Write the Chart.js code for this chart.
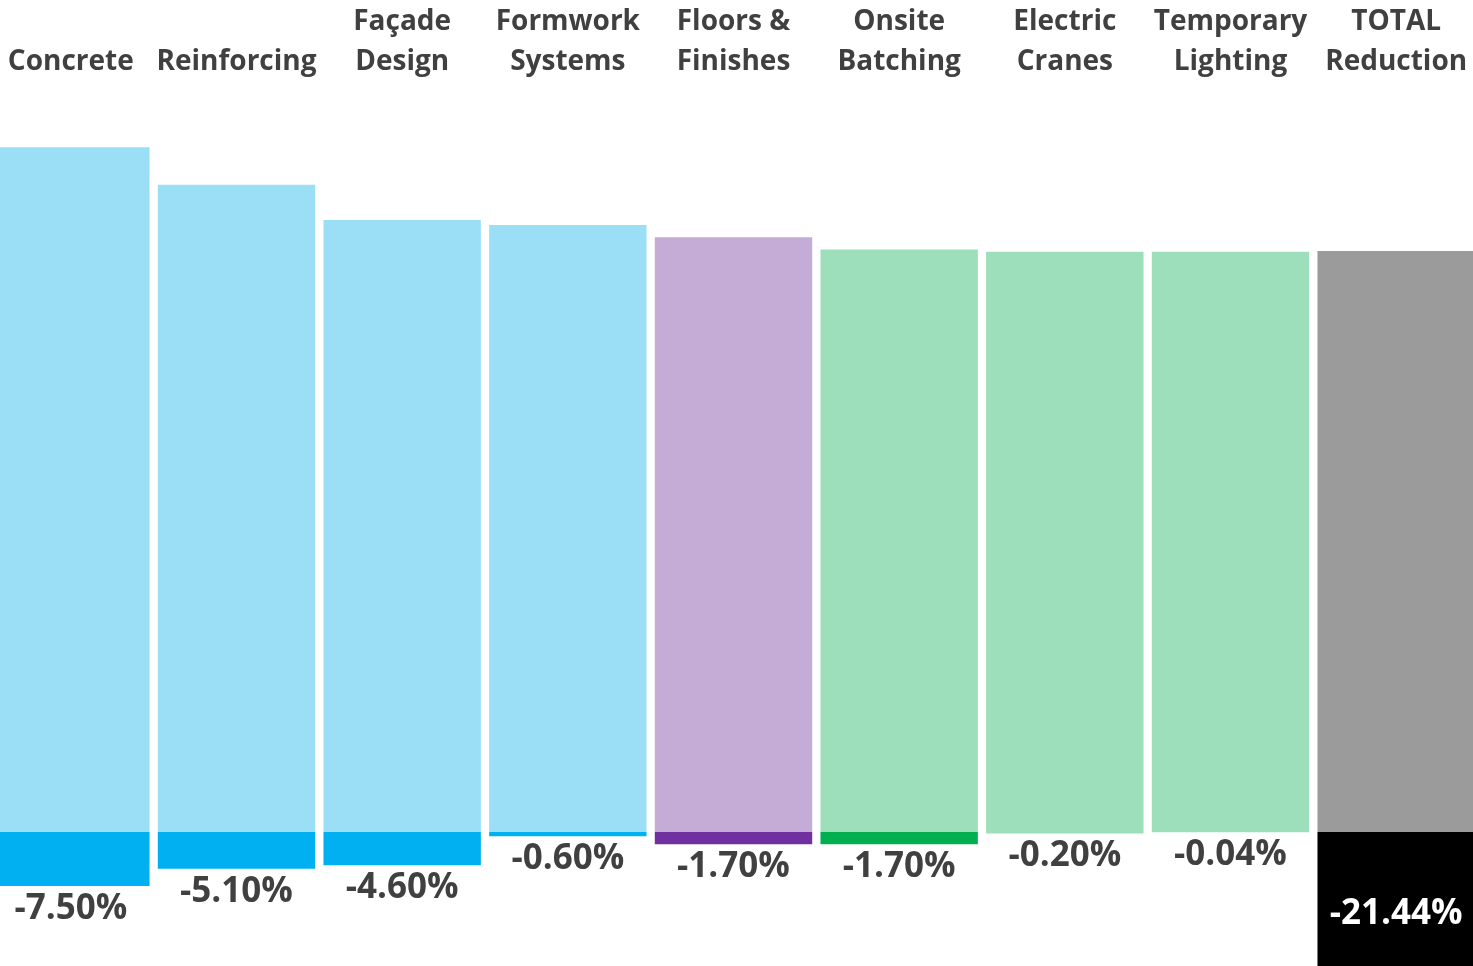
<!DOCTYPE html>
<html>
<head>
<meta charset="utf-8">
<script src="https://cdn.jsdelivr.net/npm/chart.js"></script>
<style>
  body { margin: 0; background: #fff; overflow: hidden; }
  #myChart { position: absolute; left: -12px; top: 0; }
</style>
</head>
<body>
<canvas id="myChart" width="1491" height="966"></canvas>
<script>
const categories = [
  ['', 'Concrete'], ['', 'Reinforcing'], ['Façade', 'Design'],
  ['Formwork', 'Systems'], ['Floors &', 'Finishes'], ['Onsite', 'Batching'],
  ['Electric', 'Cranes'], ['Temporary', 'Lighting'], ['TOTAL', 'Reduction']
];
// remaining level after each step (index units)
const remaining = [95.1, 89.9, 85.0, 84.3, 82.6, 80.9, 80.6, 80.6, 80.7];
// reduction of each item, in %
const reduction = [-7.50, -5.10, -4.60, -0.60, -1.70, -1.70, -0.20, -0.04, -21.44];

const lightColors = ['#9BDFF6', '#9BDFF6', '#9BDFF6', '#9BDFF6', '#C5ACD7', '#9CDFBA', '#9CDFBA', '#9CDFBA', '#9B9B9B'];
const darkColors = ['#00B0F0', '#00B0F0', '#00B0F0', '#00B0F0', '#7030A0', '#00B050', '#9CDFBA', '#9CDFBA', '#000000'];

const valueLabels = {
  id: 'valueLabels',
  afterDatasetsDraw(chart) {
    const ctx = chart.ctx;
    const meta = chart.getDatasetMeta(1);
    ctx.save();
    ctx.font = 'bold 35px "Open Sans"';
    ctx.textAlign = 'center';
    ctx.textBaseline = 'middle';
    meta.data.forEach((bar, i) => {
      const txt = reduction[i].toFixed(2) + '%';
      if (i === reduction.length - 1) {
        ctx.fillStyle = '#ffffff';
        ctx.fillText(txt, bar.x, (bar.y + bar.base) / 2 + 5);
      } else {
        ctx.fillStyle = '#404040';
        ctx.fillText(txt, bar.x, Math.max(bar.y, bar.base) + 23);
      }
    });
    ctx.restore();
  }
};

let ctx = document.getElementById('myChart').getContext('2d');
let chart = new Chart(ctx, {
  type: 'bar',
  data: {
    labels: categories,
    datasets: [{
      label: 'Remaining',
      data: remaining,
      backgroundColor: lightColors,
      borderWidth: 0
    }, {
      label: 'Reduction',
      data: reduction,
      backgroundColor: darkColors,
      borderWidth: 0
    }]
  },
  options: {
    responsive: false,
    animation: false,
    devicePixelRatio: 1,
    layout: { padding: 0 },
    datasets: {
      bar: { categoryPercentage: 1, barPercentage: 0.95 }
    },
    plugins: {
      legend: { display: false },
      tooltip: { enabled: false }
    },
    scales: {
      x: {
        position: 'top',
        stacked: true,
        grid: { display: false, drawTicks: false },
        border: { display: false },
        afterFit: (scale) => { scale.height = 82; },
        ticks: {
          autoSkip: false,
          maxRotation: 0,
          padding: 0,
          color: '#404040',
          font: { family: '"Open Sans"', weight: 'bold', size: 28, lineHeight: 1.43 }
        }
      },
      y: {
        display: false,
        stacked: true,
        min: -18.61,
        max: 104.17
      }
    }
  },
  plugins: [valueLabels]
});
</script>
</body>
</html>
